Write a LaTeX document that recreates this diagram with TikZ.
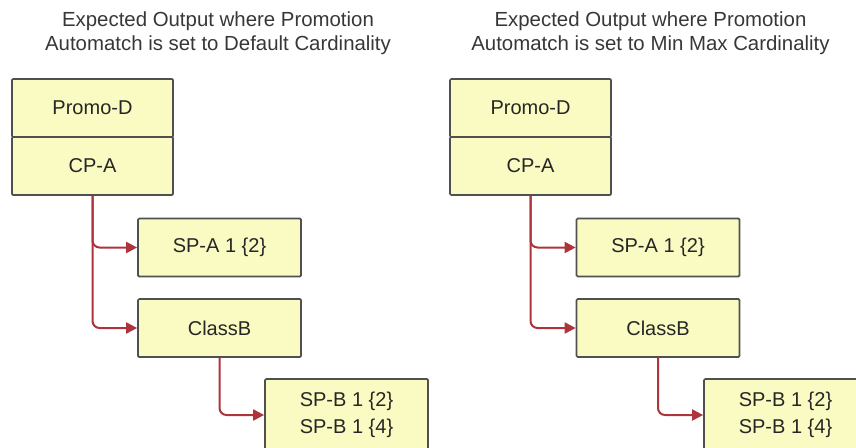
\documentclass[tikz,border=0pt]{standalone}
\usepackage{fontspec}
\setmainfont{Liberation Sans}
\usetikzlibrary{arrows.meta}
\definecolor{boxfill}{RGB}{250,250,195}
\definecolor{boxline}{RGB}{80,80,80}
\definecolor{connc}{RGB}{172,52,58}
\definecolor{titlec}{RGB}{55,55,55}
\tikzset{
  box/.style={draw=boxline, fill=boxfill, line width=1.7pt, rounded corners=1.2pt, minimum width=161pt, minimum height=58pt, inner sep=0pt, font=\fontsize{20}{27}\selectfont, align=center, text=black!85},
  conn/.style={draw=connc, line width=2pt, rounded corners=7pt, -{Triangle[length=11pt,width=11pt]}},
  ttl/.style={font=\fontsize{20.4}{24}\selectfont, align=center, text=titlec}
}
\begin{document}
\begin{tikzpicture}[x=1pt,y=-1pt]
\useasboundingbox (0,0) rectangle (856,447);
\clip (0,0) rectangle (856,447);
% left
\node[ttl] (tL) at (218,33) {Expected Output where Promotion\\Automatch is set to Default Cardinality};
\node[box] (promoL) at (92.5,108) {Promo-D};
\node[box] (cpaL) at (92.5,166) {CP-A};
\node[box, minimum width=163pt] (spaL) at (219.5,247.5) {SP-A 1 \{2\}};
\node[box, minimum width=163pt] (clsL) at (219.5,328) {ClassB};
\node[box, minimum width=163pt, minimum height=72pt] (spbL) at (346.5,415) {SP-B 1 \{2\}\\SP-B 1 \{4\}};
\draw[conn] (cpaL.south) |- (spaL.west);
\draw[conn] (cpaL.south) |- (clsL.west);
\draw[conn] (clsL.south) |- (spbL.west);
% right
\node[ttl] (tR) at (650.5,33) {Expected Output where Promotion\\Automatch is set to Min Max Cardinality};
\node[box] (promoR) at (530.5,108) {Promo-D};
\node[box] (cpaR) at (530.5,166) {CP-A};
\node[box, minimum width=163pt] (spaR) at (658,247.5) {SP-A 1 \{2\}};
\node[box, minimum width=163pt] (clsR) at (658,328) {ClassB};
\node[box, minimum width=163pt, minimum height=72pt] (spbR) at (785.5,415) {SP-B 1 \{2\}\\SP-B 1 \{4\}};
\draw[conn] (cpaR.south) |- (spaR.west);
\draw[conn] (cpaR.south) |- (clsR.west);
\draw[conn] (clsR.south) |- (spbR.west);
\end{tikzpicture}
\end{document}
